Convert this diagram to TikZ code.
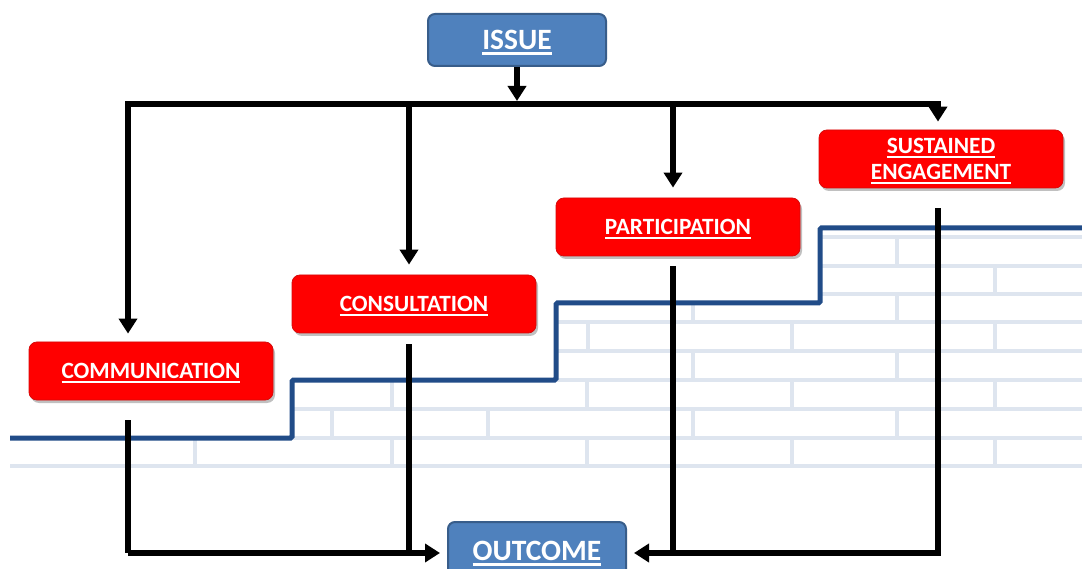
\documentclass[tikz,border=0pt]{standalone}
\usepackage{fontspec}
\setmainfont{Carlito}
\usetikzlibrary{arrows.meta,shadows}
\definecolor{boxred}{RGB}{255,0,0}
\definecolor{boxredline}{RGB}{215,10,10}
\definecolor{boxblue}{RGB}{79,129,189}
\definecolor{boxblueline}{RGB}{56,93,138}
\definecolor{stepblue}{RGB}{33,76,136}
\definecolor{mortar}{RGB}{222,229,239}
\newcommand\ulword[1]{\leavevmode\setbox0\hbox{#1}\rlap{\smash{\rule[-0.17em]{\wd0}{0.075em}}}\box0}
\tikzset{
  redbox/.style={draw=boxredline, line width=0.8pt, fill=boxred, rounded corners=8pt,
    minimum width=244pt, minimum height=58pt, text=white, align=center,
    font=\fontsize{23.3}{26}\selectfont\bfseries,
    drop shadow={opacity=0.35, shadow xshift=2pt, shadow yshift=-3pt, fill=black!70}},
  bluebox/.style={draw=boxblueline, line width=2pt, fill=boxblue, rounded corners=7pt,
    minimum width=178pt, minimum height=52pt, text=white,
    font=\fontsize{29.5}{32}\selectfont\bfseries},
  conn/.style={draw=black, line width=6pt},
  arr/.style={conn, -{Triangle[width=18pt,length=15pt]}},
  mortarline/.style={draw=mortar, line width=4pt},
  stepline/.style={draw=stepblue, line width=5pt, rounded corners=1.5pt}
}
\begin{document}
\begin{tikzpicture}[x=1pt,y=-1pt]
\useasboundingbox (0,0) rectangle (1082,569);
\clip (0,0) rectangle (1082,569);
\fill[white] (0,0) rectangle (1082,569);
% brick wall mortar: horizontal joints
\foreach \yy/\xa in {466/10,438/292,409/292,380/556,351/556,322/556,294/820,266/820,237/820}
  \draw[mortarline] (\xa,\yy) -- (1082,\yy);
% brick wall mortar: vertical joints
\foreach \xx in {897} \draw[mortarline] (\xx,237) -- (\xx,266);
\foreach \xx in {995} \draw[mortarline] (\xx,266) -- (\xx,294);
\draw[mortarline] (693,303) -- (693,322);
\draw[mortarline] (897,294) -- (897,322);
\foreach \xx in {588,792,995} \draw[mortarline] (\xx,322) -- (\xx,351);
\foreach \xx in {693,897} \draw[mortarline] (\xx,351) -- (\xx,380);
\foreach \xx in {392,587,792,995} \draw[mortarline] (\xx,380) -- (\xx,409);
\foreach \xx in {332,488,693,897} \draw[mortarline] (\xx,409) -- (\xx,438);
\foreach \xx in {195,392,587,792,995} \draw[mortarline] (\xx,438) -- (\xx,466);
% stepped line
\draw[stepline] (10,438) -- (292,438) -- (292,380) -- (556,380) -- (556,303) -- (820,303) -- (820,228) -- (1082,228);

% nodes
\node[bluebox] (issue) at (517,40) {\ulword{ISSUE}};
\node[bluebox, minimum height=58pt] (outcome) at (537,551) {\ulword{OUTCOME}};
\node[redbox] (comm) at (151,371) {\ulword{COMMUNICATION}};
\node[redbox] (cons) at (414,304) {\ulword{CONSULTATION}};
\node[redbox] (part) at (678,227) {\ulword{PARTICIPATION}};
\node[redbox] (sust) at (941,159) {\ulword{SUSTAINED}\\\ulword{ENGAGEMENT}};

% connector coordinates
\coordinate (bus) at (517,104);
\coordinate (busL) at (128,104);
\coordinate (busR) at (938,104);
\coordinate (d1) at (128,104);
\coordinate (d2) at (409,104);
\coordinate (d3) at (673,104);
\coordinate (d4) at (938,104);
\coordinate (low) at (0,553);

% top distribution
\draw[arr, shorten >=3pt] (issue.south) -- (bus);
\draw[conn, line cap=rect] (busL) -- (busR);
\draw[arr, shorten >=8pt] (d1) -- (d1 |- comm.north);
\draw[arr, shorten >=10pt] (d2) -- (d2 |- cons.north);
\draw[arr, shorten >=10pt] (d3) -- (d3 |- part.north);
\draw[arr, shorten >=8pt] (d4) -- (d4 |- sust.north);

% bottom collection
\draw[conn, shorten <=20pt] (d1 |- comm.south) -- (d1 |- low);
\draw[arr, shorten >=7pt] (d1 |- low) -- (outcome.west |- low);
\draw[conn, shorten <=11pt] (d2 |- cons.south) -- (d2 |- low);
\draw[conn, shorten <=10pt] (d3 |- part.south) -- (d3 |- low);
\draw[arr, shorten >=7pt] (d3 |- low) -- (outcome.east |- low);
\draw[conn, shorten <=20pt, line join=miter] (d4 |- sust.south) -- (d4 |- low) -- ([xshift=-3pt]d3 |- low);
\end{tikzpicture}
\end{document}
